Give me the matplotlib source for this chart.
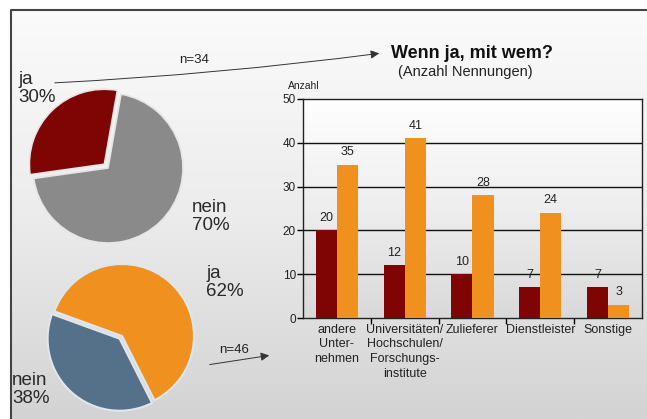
import numpy as np
import matplotlib
matplotlib.use("Agg")
import matplotlib.pyplot as plt
from matplotlib.patches import FancyArrowPatch
from matplotlib.colors import LinearSegmentedColormap

# data
pie1_labels = ["ja", "nein"]
pie1_values = [30, 70]
pie2_labels = ["nein", "ja"]
pie2_values = [38, 62]
categories = ["andere\nUnter-\nnehmen", "Universitäten/\nHochschulen/\nForschungs-\ninstitute",
              "Zulieferer", "Dienstleister", "Sonstige"]
series_red = [20, 12, 10, 7, 7]
series_orange = [35, 41, 28, 24, 3]
y_ticks = [0, 10, 20, 30, 40, 50]

DARKRED = "#7f0505"
ORANGE = "#f0901f"
GRAY = "#8a8a8a"
BLUEGRAY = "#557089"

W, H = 647, 419
fig = plt.figure(figsize=(W / 100, H / 100), dpi=100)
plt.rcParams['font.family'] = ['Liberation Sans', 'DejaVu Sans']


def px_axes(x0, y0, x1, y1, **kw):
    """axes from pixel box (top-left origin)"""
    return fig.add_axes([x0 / W, 1 - y1 / H, (x1 - x0) / W, (y1 - y0) / H], **kw)


# background with gradient and frame
bg = px_axes(0, 0, W, H)
bg.set_xlim(0, W)
bg.set_ylim(H, 0)
bg.axis("off")
grad = np.linspace(0, 1, 256).reshape(-1, 1)
cm_bg = LinearSegmentedColormap.from_list("bg", ["#fbfbfb", "#ececec", "#d3d3d3"])
bg.imshow(grad, cmap=cm_bg, extent=(11, W, H, 10), aspect="auto", zorder=0)
bg.plot([11, 11, W], [H, 10, 10], color="#444444", lw=1.5, zorder=1)

# pie 1
cx, cy, r = 108, 168, 75
ax1 = px_axes(cx - r, cy - r, cx + r, cy + r)
ax1.pie(pie1_values, colors=[DARKRED, GRAY], startangle=80, explode=[0.07, 0],
        radius=1, wedgeprops=dict(edgecolor="#e6e6e6", linewidth=1.2))
ax1.set_xlim(-1, 1)
ax1.set_ylim(-1, 1)
ax1.set_aspect("equal")
for p in ax1.patches:
    p.set_clip_on(False)

# pie 2
cx, cy, r = 122, 336, 72
ax2 = px_axes(cx - r, cy - r, cx + r, cy + r)
ax2.pie(pie2_values, colors=[BLUEGRAY, ORANGE], startangle=160, explode=[0.05, 0],
        radius=1, wedgeprops=dict(edgecolor="#dfe6ee", linewidth=1.5))
ax2.set_xlim(-1, 1)
ax2.set_ylim(-1, 1)
ax2.set_aspect("equal")
for p in ax2.patches:
    p.set_clip_on(False)

# pie labels
lab = dict(fontsize=13.5, color="#2a2a2a", ha="left", va="top", linespacing=1.1)
bg.text(18, 71, f"{pie1_labels[0]}\n{pie1_values[0]}%", **lab)
bg.text(192, 199, f"{pie1_labels[1]}\n{pie1_values[1]}%", **lab)
bg.text(206, 265, f"{pie2_labels[1]}\n{pie2_values[1]}%", **lab)
bg.text(12, 372, f"{pie2_labels[0]}\n{pie2_values[0]}%", **lab)

# arrows with n
arr1 = FancyArrowPatch((52, 83), (382, 53), connectionstyle="arc3,rad=0.02",
                       arrowstyle="-|>,head_length=5,head_width=2.5", color="#333333", lw=0.7)
bg.add_patch(arr1)
bg.text(194, 60, "n=34", fontsize=9.5, color="#222222", ha="center", va="center")
arr2 = FancyArrowPatch((207, 365), (272, 355), arrowstyle="-|>,head_length=5,head_width=2.5",
                       color="#333333", lw=0.7)
bg.add_patch(arr2)
bg.text(234, 350, "n=46", fontsize=9.5, color="#222222", ha="center", va="center")

# titles
bg.text(391, 53, "Wenn ja, mit wem?", fontsize=13, fontweight="bold", color="#111111",
        ha="left", va="center")
bg.text(465, 72, "(Anzahl Nennungen)", fontsize=10.5, color="#222222", ha="center", va="center")
bg.text(288, 86, "Anzahl", fontsize=7.5, color="#222222", ha="left", va="center")

# bar chart
ax = px_axes(303, 99, 642, 318)
ax.imshow(grad, cmap=LinearSegmentedColormap.from_list("pa", ["#ffffff", "#eeeeee", "#d9d9d9"]),
          extent=(-0.5, len(categories) - 0.5, 0, 50), aspect="auto", zorder=0)
x = np.arange(len(categories))
bw = 0.31
ax.bar(x - bw / 2, series_red, width=bw, color=DARKRED, zorder=3)
ax.bar(x + bw / 2, series_orange, width=bw, color=ORANGE, zorder=3)
for xi, v in zip(x, series_red):
    ax.text(xi - bw / 2, v + 1.5, str(v), ha="center", va="bottom", fontsize=9, color="#222222")
for xi, v in zip(x, series_orange):
    ax.text(xi + bw / 2, v + 1.5, str(v), ha="center", va="bottom", fontsize=9, color="#222222")
ax.set_xlim(-0.5, len(categories) - 0.5)
ax.set_ylim(0, 50)
ax.set_yticks(y_ticks)
ax.set_yticklabels([str(t) for t in y_ticks], fontsize=8.5, color="#222222")
for t in y_ticks[1:-1]:
    ax.axhline(t, color="#111111", lw=1.0, zorder=2)
ax.set_xticks(np.arange(len(categories) - 1) + 0.5)
ax.set_xticklabels([])
ax.tick_params(axis="x", length=4, direction="out", width=1)
ax.tick_params(axis="y", length=4, direction="out", width=1, pad=1)
for xi, c in zip(x, categories):
    ax.text(xi, -1.3, c, ha="center", va="top", fontsize=9, color="#222222",
            linespacing=1.3, transform=ax.transData)
for s in ax.spines.values():
    s.set_color("#222222")
    s.set_linewidth(1.0)

fig.savefig("out.png", dpi=100)
